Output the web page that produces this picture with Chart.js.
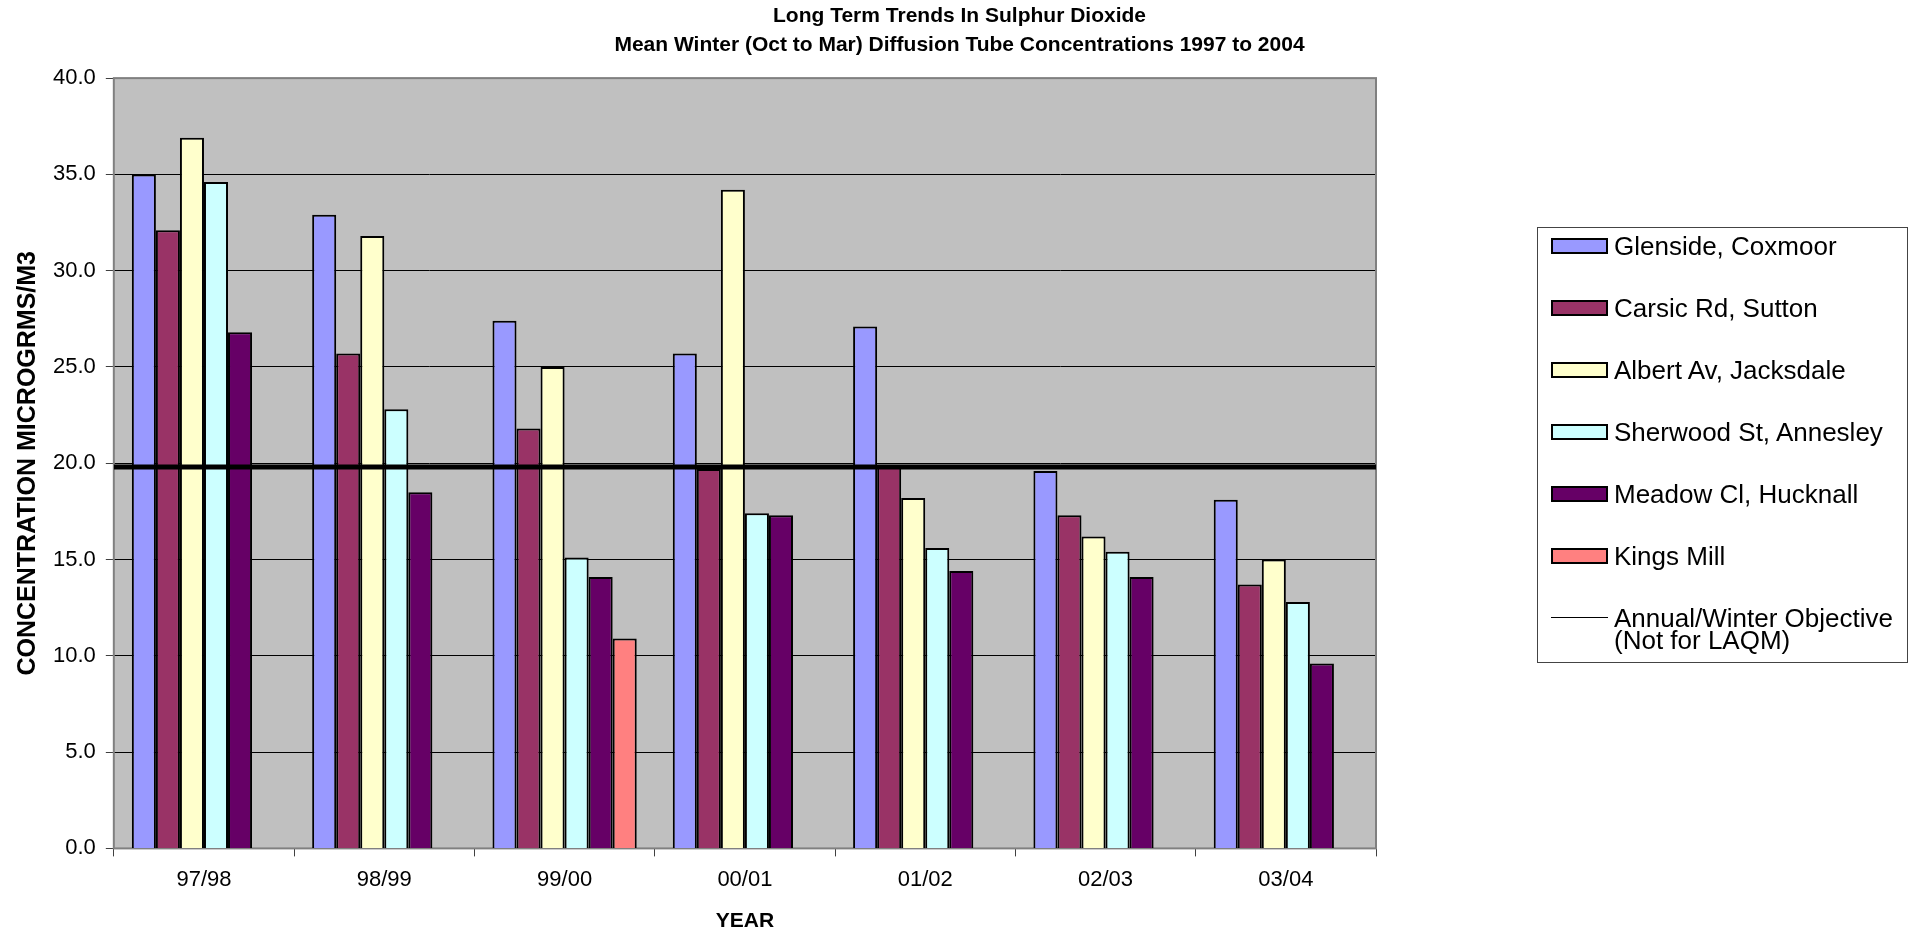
<!DOCTYPE html>
<html>
<head>
<meta charset="utf-8">
<script src="https://cdn.jsdelivr.net/npm/chart.js@4.4.1/dist/chart.umd.min.js"></script>
<style>
  html, body { margin: 0; padding: 0; background: #fff; }
  #wrap { position: relative; width: 1919px; height: 936px; }
  #legend {
    position: absolute; left: 1537px; top: 227px; width: 371px; height: 436px;
    border: 1px solid #444; box-sizing: border-box;
    font-family: "Liberation Sans", Arial, sans-serif; font-size: 26px; color: #000;
  }
  .item { position: absolute; left: 13px; display: flex; align-items: flex-start; line-height: 22px; }
  .sw { width: 57px; height: 16px; border: 2px solid #000; box-sizing: border-box; margin: 3px 6px 0 0; flex: none; }
  .ln { width: 57px; height: 1px; background: #000; margin: 10px 6px 0 0; flex: none; }
</style>
</head>
<body>
<div id="wrap">
  <canvas id="so2Chart" width="1919" height="936"></canvas>
  <div id="legend"></div>
</div>
<script>
const years = ['97/98', '98/99', '99/00', '00/01', '01/02', '02/03', '03/04'];

const siteNames = ['Glenside, Coxmoor', 'Carsic Rd, Sutton', 'Albert Av, Jacksdale',
                   'Sherwood St, Annesley', 'Meadow Cl, Hucknall', 'Kings Mill'];
const siteColors = ['#9999FF', '#993366', '#FFFFCC', '#CCFFFF', '#660066', '#FF8080'];

const glenside = [35.0, 32.9, 27.4, 25.7, 27.1, 19.6, 18.1];
const carsic   = [32.1, 25.7, 21.8, 19.7, 19.8, 17.3, 13.7];
const albert   = [36.9, 31.8, 25.0, 34.2, 18.2, 16.2, 15.0];
const sherwood = [34.6, 22.8, 15.1, 17.4, 15.6, 15.4, 12.8];
const meadow   = [26.8, 18.5, 14.1, 17.3, 14.4, 14.1, 9.6];
const kingsMill = [null, null, 10.9, null, null, null, null];

const objectiveLabel = ['Annual/Winter Objective', '(Not for LAQM)'];
const objective = 19.8;

const yTicks = [0, 5, 10, 15, 20, 25, 30, 35, 40];

const FONT = '"Liberation Sans", Arial, sans-serif';

// grey plot area + border, like the Excel original
const plotArea = {
    id: 'plotArea',
    beforeDraw(chart) {
        const { ctx, chartArea: a } = chart;
        ctx.save();
        ctx.fillStyle = '#C0C0C0';
        ctx.fillRect(a.left, a.top, a.width, a.height);
        ctx.restore();
    },
    beforeDatasetsDraw(chart) {
        const { ctx, chartArea: a } = chart;
        ctx.save();
        ctx.strokeStyle = '#808080';
        ctx.lineWidth = 2;
        ctx.strokeRect(a.left, a.top, a.width, a.height);
        ctx.restore();
    }
};

function generateSO2Chart() {
    const seriesValues = [glenside, carsic, albert, sherwood, meadow, kingsMill];
    const datasets = seriesValues.map((vals, i) => ({
        type: 'bar',
        indexAxis: 'x',
        label: siteNames[i],
        data: vals,
        backgroundColor: siteColors[i],
        borderColor: '#000',
        borderWidth: 2,
        categoryPercentage: 0.8,
        barPercentage: 1.0
    }));
    // objective line runs on its own 0..1 axis so it spans the whole plot width
    datasets.push({
        type: 'line',
        indexAxis: 'x',
        label: objectiveLabel,
        data: [{ x: 0, y: objective }, { x: 1, y: objective }],
        xAxisID: 'xLine',
        borderColor: '#000',
        borderWidth: 5,
        pointRadius: 0,
        fill: false,
        order: -1
    });

    const ctx = document.getElementById('so2Chart').getContext('2d');
    const chart = new Chart(ctx, {
        type: 'bar',
        data: { labels: years, datasets: datasets },
        options: {
            // chart-level 'y' keeps the bar grouping from counting the line's extra x axis;
            // every dataset sets indexAxis 'x' itself
            indexAxis: 'y',
            responsive: false,
            animation: false,
            devicePixelRatio: 1,
            layout: { padding: 0 },
            plugins: {
                legend: { display: false },
                tooltip: { enabled: false },
                title: {
                    display: true,
                    text: ['Long Term Trends In Sulphur Dioxide',
                           'Mean Winter (Oct to Mar) Diffusion Tube Concentrations 1997 to 2004'],
                    color: '#000',
                    font: { family: FONT, size: 21, weight: 'bold', lineHeight: 1.36 },
                    padding: { top: 2, bottom: 19 }
                }
            },
            scales: {
                x: {
                    type: 'category',
                    offset: true,
                    grid: { display: true, drawOnChartArea: false, tickLength: 8, color: '#404040', offset: true },
                    border: { display: false },
                    ticks: { color: '#000', font: { family: FONT, size: 22 }, padding: 10, maxRotation: 0 },
                    title: {
                        display: true, text: 'YEAR', color: '#000',
                        font: { family: FONT, size: 21, weight: 'bold' },
                        padding: { top: 6, bottom: 2 }
                    }
                },
                xLine: { type: 'linear', min: 0, max: 1, offset: false, display: false },
                y: {
                    type: 'linear',
                    min: 0, max: 40,
                    offset: false,
                    afterBuildTicks(scale) { scale.ticks = yTicks.map(v => ({ value: v })); },
                    grid: { color: '#000', lineWidth: 1, tickLength: 8, tickColor: '#404040', offset: false },
                    border: { display: false },
                    ticks: {
                        color: '#000', font: { family: FONT, size: 22 }, padding: 10,
                        callback: v => Number(v).toFixed(1)
                    },
                    title: {
                        display: true, text: 'CONCENTRATION MICROGRMS/M3', color: '#000',
                        font: { family: FONT, size: 25, weight: 'bold' },
                        padding: { top: 13, bottom: 0 }
                    }
                },
                // empty right-hand axis that reserves the room taken by the legend
                pad: {
                    type: 'linear', position: 'right', display: true, offset: false,
                    grid: { display: false, drawTicks: false },
                    ticks: { display: false },
                    border: { display: false },
                    afterFit(scale) { scale.width = 543; }
                }
            }
        },
        plugins: [plotArea]
    });

    // legend in a box on the right
    const legend = document.getElementById('legend');
    chart.data.datasets.forEach((ds, i) => {
        const item = document.createElement('div');
        item.className = 'item';
        item.style.top = (18 + 62 * i - 11) + 'px';
        const mark = document.createElement('span');
        if (ds.type === 'line') {
            mark.className = 'ln';
        } else {
            mark.className = 'sw';
            mark.style.background = ds.backgroundColor;
        }
        const text = document.createElement('span');
        text.innerHTML = [].concat(ds.label).join('<br>');
        item.appendChild(mark);
        item.appendChild(text);
        legend.appendChild(item);
    });
}

document.addEventListener('DOMContentLoaded', () => {
    generateSO2Chart();
});
</script>
</body>
</html>
